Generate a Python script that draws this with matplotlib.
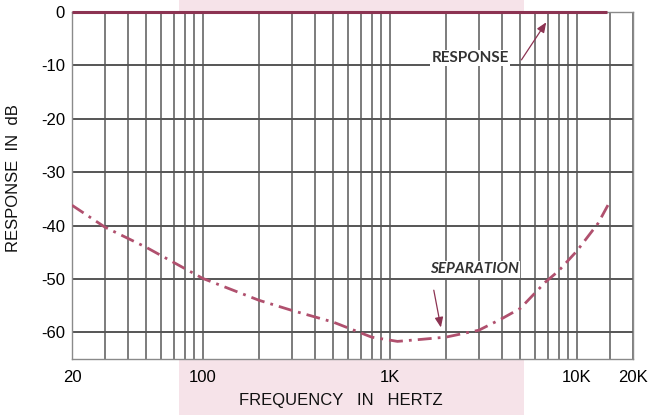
import matplotlib
matplotlib.use("Agg")
import matplotlib.pyplot as plt
from matplotlib.patches import Rectangle
import numpy as np

# ---- data ----
resp_freq = [20, 14600]
resp_db = [0, 0]

sep_freq = [20, 30, 50, 100, 200, 300, 500, 800, 1100, 1500, 2000, 3000, 4000, 5000, 6800, 8000, 10000, 13000, 15000]
sep_db = [-36.2, -40.3, -44.1, -49.9, -54.0, -55.9, -58.1, -60.9, -61.7, -61.3, -60.9, -59.6, -57.4, -55.5, -50.6, -48.5, -44.8, -39.6, -35.6]

x_ticks = [20, 100, 1000, 10000, 20000]
x_tick_labels = ["20", "100", "1K", "10K", "20K"]
y_ticks = [0, -10, -20, -30, -40, -50, -60]
y_tick_labels = ["0", "-10", "-20", "-30", "-40", "-50", "-60"]
x_grid = [20, 30, 40, 50, 60, 70, 80, 90,
          100, 200, 300, 400, 500, 600, 700, 800, 900,
          1000, 2000, 3000, 4000, 5000, 6000, 7000, 8000, 9000,
          10000, 15000, 20000]

W, H = 657, 415
fig = plt.figure(figsize=(W / 100, H / 100), dpi=100)
fig.patch.set_facecolor("white")

# pink band behind the chart
band = Rectangle((179 / W, 0), (524 - 179) / W, 1, transform=fig.transFigure,
                 facecolor="#f6e3e9", edgecolor="none", zorder=-10)
fig.patches.append(band)

ax = fig.add_axes([72 / W, 1 - 359 / H, (633 - 72) / W, (359 - 12) / H])
ax.set_zorder(5)
ax.set_facecolor("white")
ax.set_xscale("log")
ax.set_xlim(20, 20000)
ax.set_ylim(-65, 0)

for xv in x_grid:
    ax.axvline(xv, color="#727272", lw=1.3, zorder=1)
for yv in y_ticks:
    ax.axhline(yv, color="#555555", lw=1.4, zorder=1)

for s in ax.spines.values():
    s.set_color("#8a8a8a")
    s.set_linewidth(1.0)

sans = ["Liberation Sans", "DejaVu Sans"]
label_font = ["Lato", "DejaVu Sans"]

ax.set_xticks(x_ticks)
ax.set_xticklabels(x_tick_labels, fontsize=12, family=sans)
ax.xaxis.set_minor_locator(matplotlib.ticker.NullLocator())
ax.set_yticks(y_ticks)
ax.set_yticklabels(y_tick_labels, fontsize=12, family=sans)
ax.tick_params(axis="both", length=0)
ax.tick_params(axis="x", pad=8)
ax.tick_params(axis="y", pad=5)

ax.plot(resp_freq, resp_db, color="#8c3352", lw=2.2, zorder=3, clip_on=False, solid_capstyle="butt")
ax.plot(sep_freq, sep_db, color="#b0506e", lw=2.0, zorder=3,
        linestyle=(0, (5, 2.2, 1, 2.2)))

ax.text(2700, -8.6, "RESPONSE", fontsize=11, family=label_font, fontweight="bold",
        color="#333333", ha="center", va="center", zorder=4,
        bbox=dict(facecolor="white", edgecolor="none", pad=1))
ax.annotate("", xy=(7000, -1.5), xytext=(4970, -9.4),
            arrowprops=dict(arrowstyle="-|>,head_length=0.6,head_width=0.25",
                            color="#8c3352", lw=0.9), zorder=4)

ax.text(2830, -48.2, "SEPARATION", fontsize=11, family=label_font, fontweight="bold",
        style="italic", color="#333333", ha="center", va="center", zorder=4,
        bbox=dict(facecolor="white", edgecolor="none", pad=1))
ax.annotate("", xy=(1890, -59.6), xytext=(1710, -51.6),
            arrowprops=dict(arrowstyle="-|>,head_length=0.6,head_width=0.25",
                            color="#8c3352", lw=0.9), zorder=4)

fig.text(341 / W, 1 - 400 / H, "FREQUENCY   IN   HERTZ", fontsize=12, family=sans,
         ha="center", va="center", color="#111111")
fig.text(14 / W, 1 - 178 / H, "RESPONSE  IN  dB", fontsize=12, family=sans,
         ha="center", va="center", rotation=90, color="#111111")

fig.savefig("out.png", dpi=100)
